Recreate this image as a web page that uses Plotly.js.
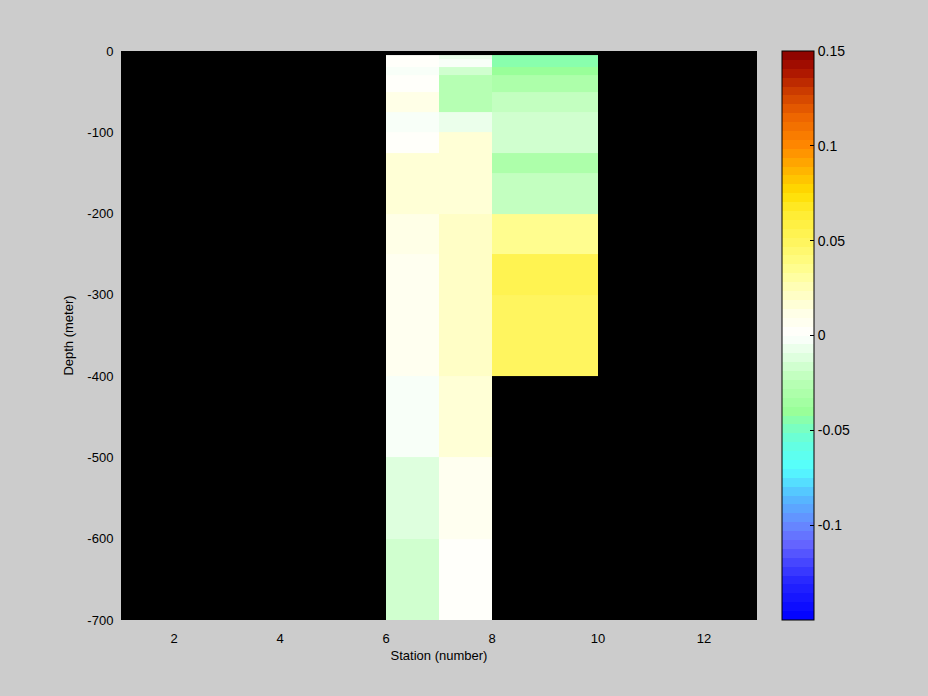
<!DOCTYPE html>
<html>
<head>
<meta charset="utf-8">
<script src="https://cdn.plot.ly/plotly-3.0.1.min.js"></script>
<style>html,body{margin:0;padding:0;background:#CCCCCC;}</style>
</head>
<body>
<div id="chart" style="width:928px;height:696px;"></div>
<script>
// Station cell edges (pcolor grid)
var stationEdges = [6, 7, 8, 10];
// Depth cell edges (meters, negative downward)
var depthEdges = [-5, -10, -20, -30, -50, -75, -100, -125, -150, -200, -250, -300, -400, -500, -600, -700];
// Values per depth cell for each station column
var station6 = [0.003, 0.003, -0.003, 0.004, 0.014, -0.003, 0.003, 0.015, 0.015, 0.014, 0.006, 0.006, -0.003, -0.010, -0.016];
var station7 = [-0.007, -0.003, -0.018, -0.028, -0.028, -0.006, 0.016, 0.016, 0.016, 0.019, 0.019, 0.019, 0.018, 0.007, 0.003];
var station8 = [-0.045, -0.045, -0.039, -0.032, -0.022, -0.016, -0.016, -0.032, -0.022, 0.037, 0.053, 0.048, null, null, null];

var xTicks = [2, 4, 6, 8, 10, 12];
var yTicks = [-700, -600, -500, -400, -300, -200, -100, 0];
var yTickText = ['-700', '-600', '-500', '-400', '-300', '-200', '-100', '0'];
var cbTicks = [-0.1, -0.05, 0, 0.05, 0.1, 0.15];
var cbTickText = ['-0.1', '-0.05', '0', '0.05', '0.1', '0.15'];
var zMin = -0.15, zMax = 0.15;

// colormap anchors (value -> colour), discretised into 64 levels
var anchors = [
  [-0.15, '#0000FF'], [-0.13, '#2626FF'], [-0.11, '#6464FF'], [-0.10, '#6688FF'],
  [-0.085, '#55BBFF'], [-0.07, '#55FFFF'], [-0.056, '#66FFDD'], [-0.047, '#80FFB8'],
  [-0.040, '#99FF99'], [-0.025, '#B8FFB4'], [-0.012, '#DDFFDD'], [0, '#FFFFFF'],
  [0.012, '#FFFFE6'], [0.025, '#FFFEB8'], [0.037, '#FFFD88'], [0.05, '#FFF55C'],
  [0.065, '#FFEC30'], [0.075, '#FFDD00'], [0.09, '#FFAA00'], [0.10, '#FF8800'],
  [0.115, '#EE6600'], [0.13, '#C83800'], [0.14, '#AA1100'], [0.15, '#880000']
];
function hex2rgb(h){return [parseInt(h.substr(1,2),16),parseInt(h.substr(3,2),16),parseInt(h.substr(5,2),16)];}
function colorAt(v){
  for (var i=0;i<anchors.length-1;i++){
    var a=anchors[i], b=anchors[i+1];
    if (v>=a[0] && v<=b[0]){
      var t=(v-a[0])/(b[0]-a[0]); var ca=hex2rgb(a[1]), cb=hex2rgb(b[1]);
      return 'rgb('+Math.round(ca[0]+t*(cb[0]-ca[0]))+','+Math.round(ca[1]+t*(cb[1]-ca[1]))+','+Math.round(ca[2]+t*(cb[2]-ca[2]))+')';
    }
  }
  return anchors[anchors.length-1][1];
}
var nLev = 64, colorscale = [];
for (var k=0;k<nLev;k++){
  var c = colorAt(zMin + (k+0.5)*(zMax-zMin)/nLev);
  colorscale.push([k/nLev, c]);
  colorscale.push([(k+1)/nLev, c]);
}

var z = [];
for (var r=0;r<station6.length;r++){ z.push([station6[r], station7[r], station8[r]]); }

var trace = {
  type: 'heatmap',
  x: stationEdges,
  y: depthEdges,
  z: z,
  zmin: zMin, zmax: zMax,
  colorscale: colorscale,
  hoverongaps: false,
  colorbar: {
    x: 1.0393, xanchor: 'left', xref: 'paper',
    y: 0.5, yanchor: 'middle', len: 1, lenmode: 'fraction',
    thickness: 32, thicknessmode: 'pixels',
    xpad: 0, ypad: 0,
    outlinewidth: 1, outlinecolor: '#000',
    ticks: 'inside', ticklen: 4, tickcolor: '#000', tickwidth: 1,
    tickvals: cbTicks, ticktext: cbTickText,
    tickfont: {family: 'Liberation Sans, Arial, sans-serif', size: 14, color: '#000'}
  }
};

var layout = {
  width: 928, height: 696,
  paper_bgcolor: '#CCCCCC', plot_bgcolor: '#000000',
  margin: {l: 121, r: 171, t: 51, b: 76},
  font: {family: 'Liberation Sans, Arial, sans-serif', size: 13, color: '#000'},
  xaxis: {
    range: [1, 13], tickvals: xTicks, ticktext: xTicks.map(String),
    showgrid: false, zeroline: false, showline: false,
    ticks: 'outside', ticklen: 6, tickcolor: 'rgba(0,0,0,0)',
    title: {text: 'Station (number)', standoff: 6, font: {size: 13}},
    automargin: false
  },
  yaxis: {
    range: [-700, 0], tickvals: yTicks, ticktext: yTickText,
    showgrid: false, zeroline: false, showline: false,
    ticks: 'outside', ticklen: 4, tickcolor: 'rgba(0,0,0,0)',
    title: {text: 'Depth (meter)', standoff: 10, font: {size: 13}},
    automargin: false
  },
  showlegend: false
};

Plotly.newPlot('chart', [trace], layout, {displayModeBar: false, staticPlot: true});
</script>
</body>
</html>
